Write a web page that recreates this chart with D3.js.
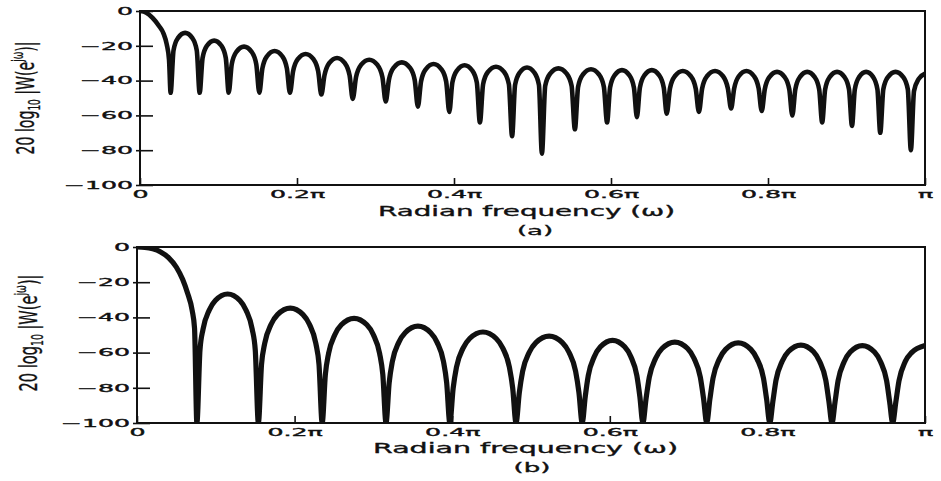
<!DOCTYPE html>
<html>
<head>
<meta charset="utf-8">
<script src="https://cdn.jsdelivr.net/npm/d3@7"></script>
<style>
  body { margin: 0; background: #fff; }
  svg { display: block; font-family: "DejaVu Sans", sans-serif; }
  text { stroke: #111; stroke-width: 0.35px; }
</style>
</head>
<body>
<div id="chart"></div>
<script>
// values: frequency in units of pi (0..1), level in dB

// (a) rectangular window
const headA = [[0, 0], [0.008, -1], [0.016, -4], [0.024, -8.5], [0.03, -13], [0.034, -19], [0.037, -28]];
const nullsA = [0.039, 0.076, 0.113, 0.152, 0.191, 0.231, 0.271, 0.313, 0.354, 0.394, 0.433, 0.474, 0.512,
                0.554, 0.595, 0.633, 0.671, 0.712, 0.753, 0.792, 0.831, 0.869, 0.907, 0.943, 0.982];
const nullDbA = [-47, -47, -47, -47, -47, -48, -50.5, -52, -55, -58, -64, -72, -82,
                 -68, -64, -61, -59, -58, -56, -57.5, -60, -64, -66, -70, -80];
const peaksA = [-12.6, -17, -20.5, -23, -24.7, -27, -28, -29.5, -30.5, -31.2, -32, -32.5,
                -33, -33.5, -34, -34, -34.5, -34.5, -34.5, -35, -35, -35, -35, -35];
// shape of one side lobe: position across the lobe, dB under its peak
const shapeA = [[0.1, -10], [0.25, -3], [0.5, 0], [0.75, -3], [0.9, -10]];
const tailA = [[0.986, -46], [0.992, -39], [1, -36]];

// (b) triangular window
const headB = [[0, 0], [0.01, -0.2], [0.02, -1], [0.03, -2.8], [0.04, -6], [0.05, -11.5],
               [0.058, -18.5], [0.064, -26], [0.07, -36], [0.073, -46]];
const nullsB = [0.076, 0.154, 0.235, 0.316, 0.397, 0.481, 0.565, 0.642, 0.723, 0.803, 0.882, 0.959];
const nullDbB = [-100, -100, -100, -100, -100, -100, -100, -100, -100, -100, -100, -100];
const peaksB = [-26.7, -34.7, -40.5, -45, -48.3, -50.6, -53, -54, -54.5, -55.7, -56];
const shapeB = [[0.05, -32], [0.1, -20], [0.2, -9.2], [0.3, -3.7], [0.5, 0],
                [0.7, -3.7], [0.8, -9.2], [0.9, -20], [0.95, -32]];
const tailB = [[0.963, -88], [0.967, -76], [0.975, -65], [0.983, -60], [1, -56]];

const xTicks = [0, 0.2, 0.4, 0.6, 0.8, 1];
const yTicks = [0, -20, -40, -60, -80, -100];
const xTitle = 'Radian frequency (\u03c9)';

const panels = [
  { tag: '(a)', head: headA, nulls: nullsA, nullDb: nullDbA, peaks: peaksA, shape: shapeA, tail: tailA,
    l: 140, r: 925, t: 11, b: 185, lw: 4.6,
    titleX: 378, titleW: 297, titleY: 216, tagX: 535, tagY: 235,
    yTitleX: 34, yTitleMid: 98, yTitleW: 113 },
  { tag: '(b)', head: headB, nulls: nullsB, nullDb: nullDbB, peaks: peaksB, shape: shapeB, tail: tailB,
    l: 137, r: 925, t: 247, b: 423, lw: 5.2,
    titleX: 373, titleW: 305, titleY: 453, tagX: 532, tagY: 472,
    yTitleX: 37, yTitleMid: 333, yTitleW: 117 }
];

const svg = d3.select('#chart').append('svg')
    .attr('width', 941)
    .attr('height', 481);

// stretch text the way the plotter lettering is stretched
function stretch(sel, k) {
  sel.each(function() {
    const len = this.getComputedTextLength();
    d3.select(this).attr('textLength', len * k).attr('lengthAdjust', 'spacingAndGlyphs');
  });
}

function buildPoints(p) {
  const pts = p.head.slice();
  p.peaks.forEach((pk, i) => {
    const a = p.nulls[i], b = p.nulls[i + 1];
    pts.push([a, p.nullDb[i]]);
    p.shape.forEach(([f, d]) => pts.push([a + f * (b - a), pk + d]));
  });
  const n = p.nulls.length - 1;
  pts.push([p.nulls[n], p.nullDb[n]]);
  return pts.concat(p.tail);
}

panels.forEach((p, idx) => {
  const x = d3.scaleLinear().domain([0, 1]).range([p.l, p.r]);
  const y = d3.scaleLinear().domain([-100, 0]).range([p.b, p.t]);

  svg.append('clipPath').attr('id', 'clip' + idx)
    .append('rect')
      .attr('x', p.l).attr('y', p.t)
      .attr('width', p.r - p.l).attr('height', p.b - p.t);

  // y axis, ticks point inward
  const gy = svg.append('g')
      .attr('transform', `translate(${p.l},0)`)
      .call(d3.axisLeft(y)
        .tickValues(yTicks)
        .tickSize(-13)
        .tickPadding(7)
        .tickFormat(d => d === 0 ? '0' : '\u2212' + Math.abs(d)));
  gy.select('.domain').remove();
  gy.selectAll('.tick line').attr('x1', -4).attr('stroke', '#111').attr('stroke-width', 1.6);
  gy.selectAll('.tick text').attr('fill', '#111').attr('font-size', 10.5);
  gy.attr('font-family', null).attr('font-size', null);
  stretch(gy.selectAll('.tick text'), 2.4);

  // x axis
  const gx = svg.append('g')
      .attr('transform', `translate(0,${p.b})`)
      .call(d3.axisBottom(x)
        .tickValues(xTicks)
        .tickSize(-7)
        .tickPadding(6)
        .tickFormat(d => d === 0 ? '0' : d === 1 ? '\u03c0' : d + '\u03c0'));
  gx.select('.domain').remove();
  gx.selectAll('.tick line').attr('stroke', '#111').attr('stroke-width', 1.6);
  gx.selectAll('.tick text').attr('fill', '#111').attr('font-size', 10.5);
  gx.attr('font-family', null).attr('font-size', null);
  stretch(gx.selectAll('.tick text'), 2.4);

  // frame
  svg.append('rect')
      .attr('x', p.l).attr('y', p.t)
      .attr('width', p.r - p.l).attr('height', p.b - p.t)
      .attr('fill', 'none').attr('stroke', '#111').attr('stroke-width', 2);

  // response curve
  const line = d3.line()
      .x(d => x(d[0]))
      .y(d => y(d[1]))
      .curve(d3.curveMonotoneX);

  svg.append('path')
      .datum(buildPoints(p))
      .attr('clip-path', `url(#clip${idx})`)
      .attr('fill', 'none')
      .attr('stroke', '#111')
      .attr('stroke-width', p.lw)
      .attr('stroke-linejoin', 'round')
      .attr('stroke-linecap', 'round')
      .attr('d', line);

  // x title and panel tag
  svg.append('text')
      .attr('x', p.titleX).attr('y', p.titleY)
      .attr('font-size', 14).attr('fill', '#111')
      .attr('textLength', p.titleW).attr('lengthAdjust', 'spacingAndGlyphs')
      .text(xTitle);
  svg.append('text')
      .attr('x', p.tagX).attr('y', p.tagY)
      .attr('text-anchor', 'middle')
      .attr('font-size', 13).attr('fill', '#111')
      .text(p.tag)
      .call(s => stretch(s, 2));

  // y title: 20 log10 |W(e^jw)|
  const yt = svg.append('text')
      .attr('transform', `translate(${p.yTitleX},${p.yTitleMid + p.yTitleW / 2}) rotate(-90)`)
      .attr('font-size', 25).attr('fill', '#111')
      .attr('textLength', p.yTitleW).attr('lengthAdjust', 'spacingAndGlyphs');
  yt.append('tspan').text('20 log');
  yt.append('tspan').attr('font-size', 16).attr('dy', 6).text('10');
  yt.append('tspan').attr('dy', -6).text(' |W(e');
  yt.append('tspan').attr('font-size', 16).attr('dy', -11).text('j\u03c9');
  yt.append('tspan').attr('dy', 11).text(')|');
});
</script>
</body>
</html>
